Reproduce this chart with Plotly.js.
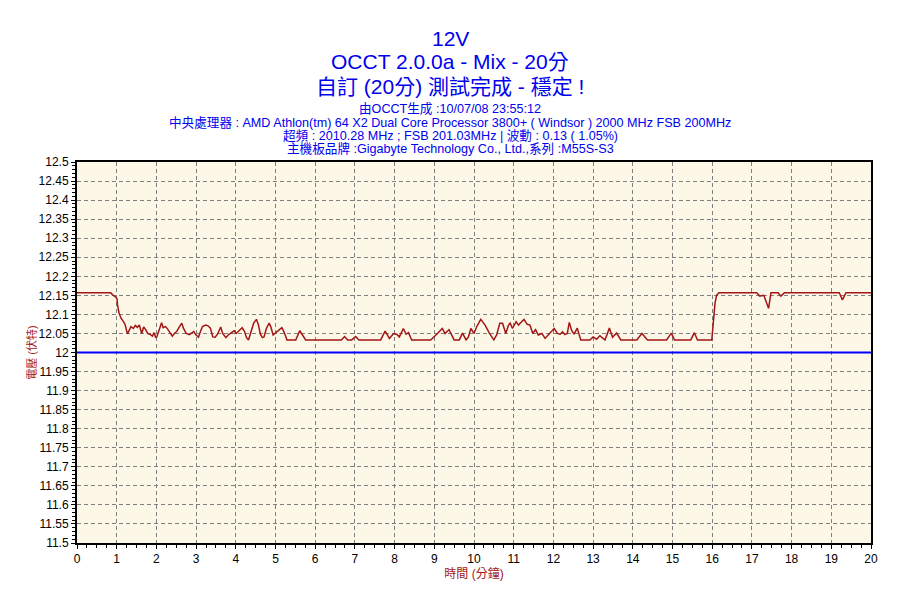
<!DOCTYPE html>
<html>
<head>
<meta charset="utf-8">
<script src="https://cdn.plot.ly/plotly-3.0.1.min.js"></script>
<style>html,body{margin:0;padding:0;background:#fff;}</style>
</head>
<body>
<div id="chart" style="width:900px;height:600px;"></div>
<script>
// Time in minutes (vertices)
const timeMin = [0,0.85,0.89,0.94,0.98,1.01,1.02,1.06,1.11,1.17,1.21,1.27,1.32,1.36,1.42,1.47,1.52,1.57,1.63,1.68,1.73,1.78,1.85,1.9,1.94,1.98,2.01,2.07,2.13,2.17,2.23,2.28,2.4,2.45,2.51,2.57,2.64,2.68,2.75,2.83,2.88,2.94,2.99,3.06,3.11,3.16,3.24,3.3,3.36,3.42,3.48,3.54,3.62,3.67,3.75,3.81,3.89,3.96,4.01,4.08,4.16,4.22,4.27,4.32,4.38,4.45,4.52,4.57,4.62,4.67,4.71,4.77,4.84,4.88,4.94,4.98,5.04,5.1,5.16,5.21,5.29,5.51,5.61,5.68,5.76,6.66,6.74,6.82,6.92,7.02,7.1,7.65,7.76,7.87,7.97,8.05,8.12,8.22,8.29,8.35,8.43,8.91,8.98,9.08,9.2,9.27,9.37,9.5,9.63,9.71,9.8,9.86,9.92,10.0,10.07,10.17,10.28,10.39,10.5,10.57,10.65,10.72,10.8,10.87,10.91,10.97,11.06,11.12,11.18,11.26,11.34,11.41,11.48,11.55,11.62,11.71,11.79,11.87,12.02,12.1,12.17,12.23,12.29,12.35,12.4,12.46,12.52,12.6,12.69,12.92,13.0,13.09,13.17,13.3,13.41,13.49,13.59,13.7,14.1,14.23,14.37,14.85,14.97,15.05,15.46,15.55,15.63,15.99,16.03,16.07,16.11,16.17,17.12,17.2,17.3,17.36,17.42,17.48,17.66,17.73,17.82,19.2,19.28,19.37,20];
// 12V readings (volts)
const volt12 = [12.157,12.157,12.152,12.148,12.145,12.14,12.125,12.103,12.09,12.081,12.074,12.049,12.059,12.068,12.063,12.071,12.066,12.072,12.05,12.067,12.06,12.05,12.047,12.043,12.052,12.04,12.041,12.063,12.078,12.065,12.068,12.062,12.043,12.05,12.055,12.066,12.077,12.064,12.05,12.047,12.05,12.055,12.047,12.04,12.055,12.068,12.072,12.07,12.064,12.041,12.04,12.048,12.067,12.05,12.039,12.046,12.052,12.057,12.05,12.058,12.065,12.055,12.039,12.033,12.055,12.077,12.087,12.072,12.048,12.039,12.041,12.063,12.077,12.068,12.046,12.05,12.055,12.06,12.065,12.055,12.033,12.033,12.057,12.046,12.033,12.033,12.042,12.033,12.033,12.042,12.033,12.033,12.056,12.037,12.049,12.048,12.041,12.063,12.048,12.052,12.033,12.033,12.041,12.05,12.063,12.05,12.06,12.033,12.033,12.051,12.033,12.041,12.063,12.05,12.068,12.087,12.072,12.05,12.033,12.046,12.077,12.077,12.05,12.072,12.077,12.063,12.081,12.072,12.079,12.087,12.074,12.072,12.05,12.06,12.046,12.05,12.037,12.046,12.063,12.05,12.048,12.054,12.047,12.05,12.079,12.058,12.048,12.064,12.033,12.033,12.041,12.035,12.044,12.033,12.064,12.04,12.051,12.033,12.033,12.05,12.033,12.033,12.051,12.033,12.033,12.052,12.033,12.033,12.077,12.129,12.15,12.157,12.157,12.148,12.15,12.13,12.116,12.157,12.157,12.148,12.157,12.157,12.138,12.157,12.157];
// Nominal reference line
const refTime = [0, 20];
const refVolt = [12, 12];

const xTickVals = [0,1,2,3,4,5,6,7,8,9,10,11,12,13,14,15,16,17,18,19,20];
const xTickText = ['0','1','2','3','4','5','6','7','8','9','10','11','12','13','14','15','16','17','18','19','20'];
const yTickVals = [11.5,11.55,11.6,11.65,11.7,11.75,11.8,11.85,11.9,11.95,12,12.05,12.1,12.15,12.2,12.25,12.3,12.35,12.4,12.45,12.5];
const yTickText = ['11.5','11.55','11.6','11.65','11.7','11.75','11.8','11.85','11.9','11.95','12','12.05','12.1','12.15','12.2','12.25','12.3','12.35','12.4','12.45','12.5'];

const titleLines = ['12V','OCCT 2.0.0a - Mix - 20分','自訂 (20分) 測試完成 - 穩定 !'];
const infoLines = ['由OCCT生成 :10/07/08 23:55:12',
  '中央處理器 : AMD Athlon(tm) 64 X2 Dual Core Processor 3800+ ( Windsor ) 2000 MHz FSB 200MHz',
  '超頻 : 2010.28 MHz ; FSB 201.03MHz | 波動 : 0.13 ( 1.05%)',
  '主機板品牌 :Gigabyte Technology Co., Ltd.,系列 :M55S-S3'];
const xTitle = '時間 (分鐘)';
const yTitle = '電壓 (伏特)';

const FONT = 'Liberation Sans, Arial, Noto Sans CJK TC, sans-serif';
const BLUE = '#0000ee';
const RED = '#a31515';

// paper coords helpers (plot area 77..871 x 162..543)
const px = X => (X - 77) / 794;
const py = Y => (543 - Y) / 381;

const annotations = [];
const titleY = [38, 62, 86];
titleLines.forEach((t, i) => annotations.push({
  text: t, xref: 'paper', yref: 'paper', x: px(450), y: py(titleY[i]),
  xanchor: 'center', yanchor: 'middle', showarrow: false,
  font: {family: FONT, size: 21, color: BLUE}
}));
const infoY = [109, 123, 136, 149];
infoLines.forEach((t, i) => annotations.push({
  text: t, xref: 'paper', yref: 'paper', x: px(450), y: py(infoY[i]),
  xanchor: 'center', yanchor: 'middle', showarrow: false,
  font: {family: FONT, size: 12.6, color: BLUE}
}));

const traces = [
  {x: refTime, y: refVolt, type: 'scatter', mode: 'lines', line: {color: '#0000ff', width: 2}, hoverinfo: 'skip'},
  {x: timeMin, y: volt12, type: 'scatter', mode: 'lines', line: {color: RED, width: 1.5}}
];

const axisCommon = {
  ticks: 'outside', ticklen: 4, tickcolor: '#000', tickwidth: 1,
  showline: true, linecolor: '#000', linewidth: 2, mirror: true,
  showgrid: true, gridcolor: '#808080', griddash: '4px,3px', gridwidth: 1,
  zeroline: false, tickmode: 'array',
  tickfont: {family: FONT, size: 12, color: '#000'}
};

const layout = {
  width: 900, height: 600,
  margin: {l: 77, r: 29, t: 162, b: 57},
  paper_bgcolor: '#ffffff', plot_bgcolor: '#fdf7e8',
  showlegend: false,
  xaxis: Object.assign({}, axisCommon, {
    range: [0, 20], tickvals: xTickVals, ticktext: xTickText,
    minor: {dtick: 0.25, tick0: 0, ticks: 'outside', ticklen: 3, tickcolor: '#000', showgrid: false},
    title: {text: xTitle, font: {family: FONT, size: 12, color: RED}, standoff: 2}
  }),
  yaxis: Object.assign({}, axisCommon, {
    range: [11.5, 12.5], tickvals: yTickVals, ticktext: yTickText,
    minor: {dtick: 0.01, tick0: 11.5, ticks: 'outside', ticklen: 3, tickcolor: '#000', showgrid: false},
    title: {text: yTitle, font: {family: FONT, size: 11, color: RED}, standoff: 0}
  }),
  annotations: annotations
};

Plotly.newPlot('chart', traces, layout, {displayModeBar: false, staticPlot: true});
</script>
</body>
</html>
